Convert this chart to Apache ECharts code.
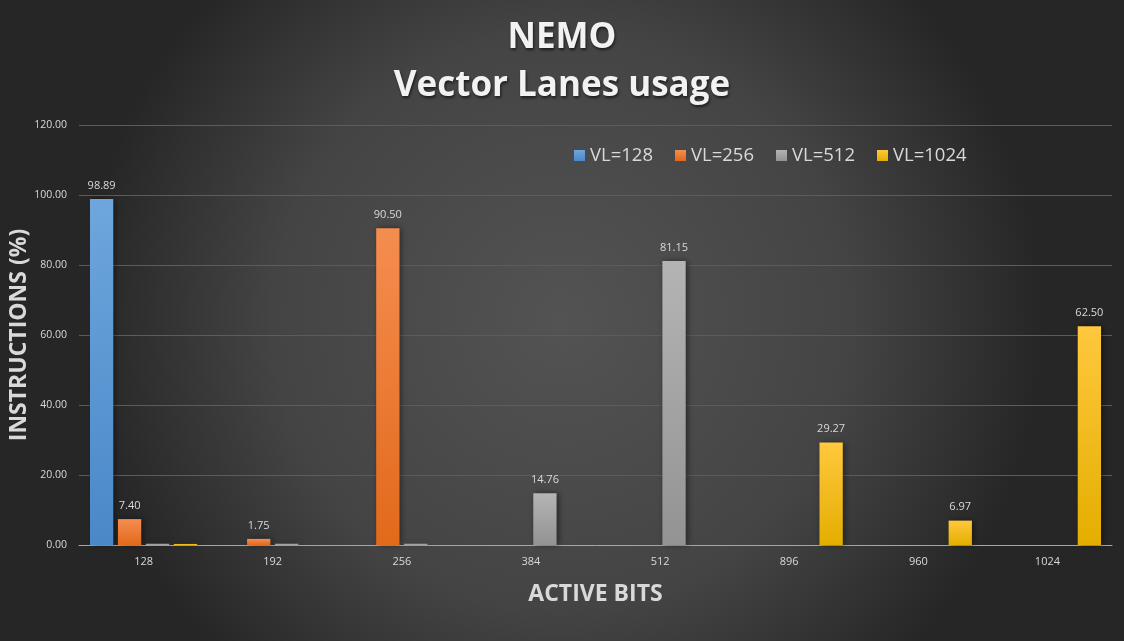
<!DOCTYPE html>
<html><head><meta charset="utf-8">
<script src="https://cdn.jsdelivr.net/npm/echarts@6/dist/echarts.min.js"></script>
<style>html,body{margin:0;padding:0;background:#333;}#c{width:1124px;height:641px;}</style>
</head><body><div id="c"></div>
<script>
const categories = ['128','192','256','384','512','896','960','1024'];
const seriesNames = ['VL=128','VL=256','VL=512','VL=1024'];
const vl128 = [98.89, 0, 0, 0, 0, 0, 0, 0];
const vl256 = [7.40, 1.75, 90.50, 0, 0, 0, 0, 0];
const vl512 = [0.35, 0.35, 0.35, 14.76, 81.15, 0, 0, 0];
const vl1024 = [0.3, 0, 0, 0, 0, 29.27, 6.97, 62.50];
const yTicks = {min: 0, max: 120, interval: 20};

const colors = [
  ['#6ea6dd', '#4a88c8'],
  ['#f58d50', '#e2691a'],
  ['#b4b4b4', '#939393'],
  ['#ffc83e', '#e4ae00']
];
const font = '"Open Sans", "DejaVu Sans", sans-serif';
const chart = echarts.init(document.getElementById('c'));
const data = [vl128, vl256, vl512, vl1024];
chart.setOption({
  backgroundColor: {type: 'radial', x: 0.5, y: 0.5, r: 0.75,
    colorStops: [{offset: 0, color: '#535353'}, {offset: 0.6, color: '#444444'}, {offset: 1, color: '#262626'}]},
  animation: false,
  title: [{
    text: 'NEMO\nVector Lanes usage', left: 'center', top: 9,
    textStyle: {color: '#f2f2f2', fontFamily: font, fontWeight: 'bold', fontSize: 35, lineHeight: 48,
      textShadowColor: 'rgba(0,0,0,0.6)', textShadowBlur: 3, textShadowOffsetX: 1, textShadowOffsetY: 2}
  }],
  legend: {
    data: seriesNames, left: 569, top: 141, itemWidth: 11, itemHeight: 11, itemGap: 22,
    icon: 'rect',
    textStyle: {color: '#d9d9d9', fontFamily: font, fontSize: 18.5}
  },
  grid: {left: 79, right: 12, top: 125, bottom: 96, containLabel: false, outerBoundsMode: 'none'},
  xAxis: {
    type: 'category', data: categories,
    name: 'ACTIVE BITS', nameLocation: 'middle', nameGap: 38, nameMoveOverlap: false,
    nameTextStyle: {color: '#d9d9d9', fontFamily: font, fontWeight: 'bold', fontSize: 23},
    axisLine: {lineStyle: {color: '#a6a6a6', width: 1}},
    axisTick: {show: false},
    axisLabel: {color: '#d9d9d9', fontFamily: font, fontSize: 11, margin: 11}
  },
  yAxis: {
    type: 'value', min: yTicks.min, max: yTicks.max, interval: yTicks.interval,
    name: 'INSTRUCTIONS (%)', nameLocation: 'middle', nameGap: 48, nameMoveOverlap: false,
    nameTextStyle: {color: '#d9d9d9', fontFamily: font, fontWeight: 'bold', fontSize: 23},
    axisLine: {show: false}, axisTick: {show: false},
    splitLine: {lineStyle: {color: '#5c5c5c', width: 1}},
    axisLabel: {color: '#d9d9d9', fontFamily: font, fontSize: 10.5, margin: 12,
      formatter: v => v.toFixed(2)}
  },
  series: data.map((d, i) => ({
    name: seriesNames[i], type: 'bar', data: d,
    barGap: '20%', barCategoryGap: '17%',
    itemStyle: {
      color: {type: 'linear', x: 0, y: 0, x2: 0, y2: 1,
        colorStops: [{offset: 0, color: colors[i][0]}, {offset: 1, color: colors[i][1]}]},
      shadowColor: 'rgba(0,0,0,0.45)', shadowBlur: 6, shadowOffsetX: 2, shadowOffsetY: 0
    },
    label: {show: true, position: 'top', distance: 8, color: '#d9d9d9', fontFamily: font, fontSize: 11,
      formatter: p => p.value >= 1 ? p.value.toFixed(2) : ''}
  }))
});
</script></body></html>
